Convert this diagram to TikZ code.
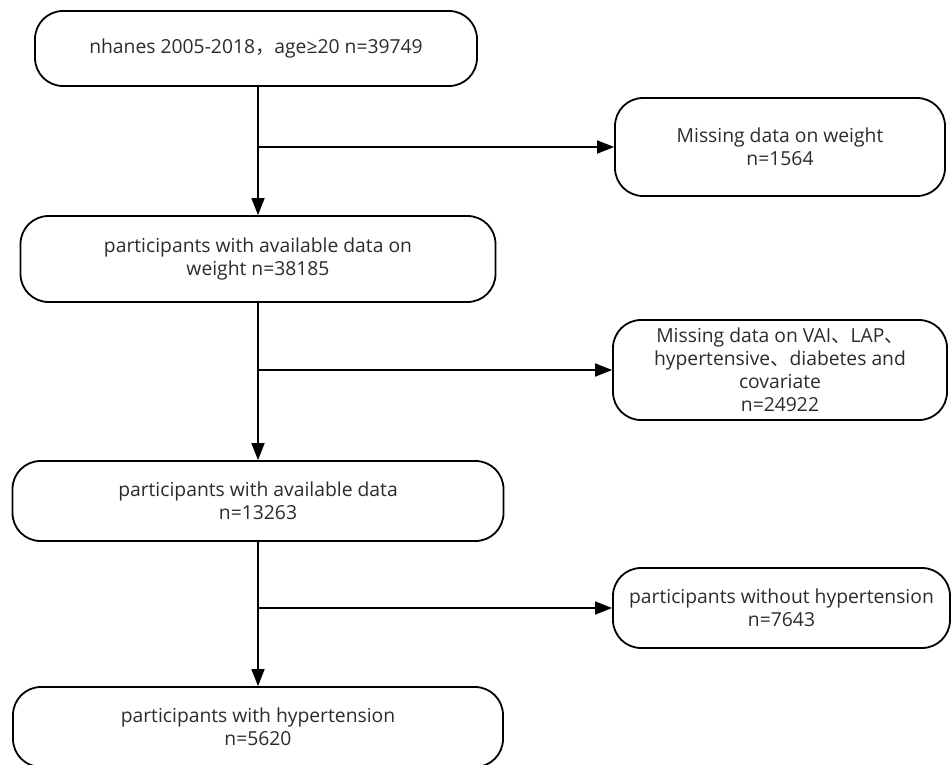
\documentclass[tikz,border=0pt]{standalone}
\usepackage{fontspec}
\setmainfont{Open Sans}
\newfontfamily\cjk{Noto Sans CJK SC}
\usetikzlibrary{arrows.meta}
\definecolor{txt}{HTML}{2B2B2B}
\tikzset{
  box/.style={draw=black, line width=1.8pt, rounded corners=28pt, align=center,
    text=txt, font=\fontsize{19.3}{23}\selectfont, inner sep=0pt},
  flow/.style={draw=black, line width=1.8pt, -{Triangle[length=17pt,width=13pt]}}
}
\begin{document}
\begin{tikzpicture}[x=1pt,y=-1pt]
\useasboundingbox (0,0) rectangle (951,765);
\node[box, minimum width=442pt, minimum height=75pt] (b1) at (256,48.5)
  {nhanes 2005-2018{\cjk ，}age≥20 n=39749};
\node[box, minimum width=330pt, minimum height=98pt] (m1) at (780,147)
  {Missing data on weight\\n=1564};
\node[box, minimum width=475pt, minimum height=86pt] (b2) at (258,259)
  {participants with available data on\\weight n=38185};
\node[box, minimum width=334pt, minimum height=100pt] (m2) at (780,370)
  {Missing data on VAI{\cjk 、}LAP{\cjk 、}\\hypertensive{\cjk 、}diabetes and\\covariate\\n=24922};
\node[box, minimum width=491pt, minimum height=80pt] (b3) at (258,501)
  {participants with available data\\n=13263};
\node[box, minimum width=337pt, minimum height=80pt] (m3) at (781.5,608)
  {participants without hypertension\\n=7643};
\node[box, minimum width=490pt, minimum height=80pt] (b4) at (258,727)
  {participants with hypertension\\n=5620};
\coordinate (j1) at (258,147);
\coordinate (j2) at (258,370);
\coordinate (j3) at (258,608);
\draw[flow] (b1.south -| j1) -- (b2.north -| j1);
\draw[flow] (b2.south -| j2) -- (b3.north -| j2);
\draw[flow] (b3.south -| j3) -- (b4.north -| j3);
\draw[flow] (j1) -- (m1.west);
\draw[flow] (j2) -- (m2.west);
\draw[flow] (j3) -- (m3.west);
\end{tikzpicture}
\end{document}
